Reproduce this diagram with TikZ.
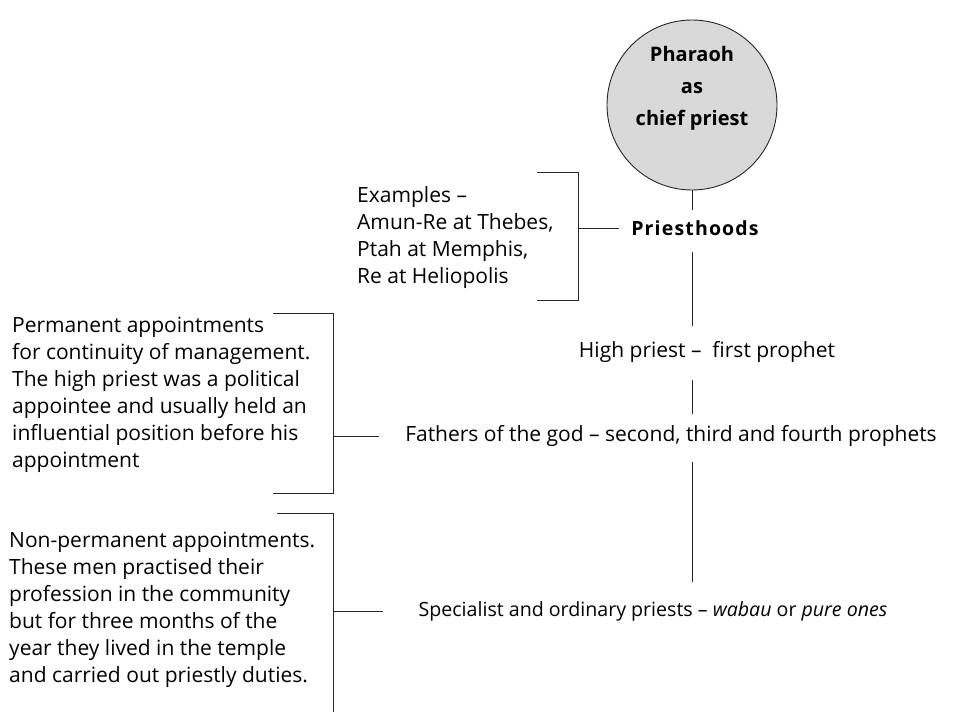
\documentclass[tikz,border=0pt]{standalone}
\usepackage{fontspec}
\setmainfont{Open Sans}
\usetikzlibrary{calc}
\begin{document}
\begin{tikzpicture}[x=1pt,y=-1pt,
  body/.style={font=\fontsize{21}{27}\selectfont, inner sep=0pt},
  block/.style={body, align=left, anchor=west},
  conn/.style={line width=0.9pt, draw=black!85},
  brk/.style={line width=0.9pt, draw=black!85}]
\useasboundingbox (0,0) rectangle (953,712);

% central chain
\node[circle, draw=black!85, line width=0.9pt, fill=black!15, minimum size=170pt,
      inner sep=0pt] (pharaoh) at (692,105) {};
\node[align=center, inner sep=0pt, font=\fontsize{20}{32}\selectfont\bfseries]
  (pharaohtext) at (692,88) {Pharaoh\\as\\chief priest};
\node[body, font=\fontsize{19.5}{22}\selectfont\bfseries\addfontfeature{LetterSpace=6}]
  (prh) at (695,228) {Priesthoods};
\node[body] (hp) at (707,352) {High priest --\ \ first prophet};
\node[body] (fathers) at (671,436) {Fathers of the god -- second, third and fourth prophets};
\node[body, font=\fontsize{19.6}{27}\selectfont] (spec) at (653,611) {Specialist and ordinary priests -- \textit{wabau} or \textit{pure ones}};

\draw[conn] (pharaoh.south) -- ($(prh.center -| pharaoh.south)+(0,-18)$);
\draw[conn, shorten <=24pt, shorten >=26pt] (prh.center -| pharaoh.south) -- (hp.center -| pharaoh.south);
\draw[conn, shorten <=28pt, shorten >=22pt] (hp.center -| pharaoh.south) -- (fathers.center -| pharaoh.south);
\draw[conn, shorten <=26pt, shorten >=29pt] (fathers.center -| pharaoh.south) -- (spec.center -| pharaoh.south);

% left notes
\node[block] (ex) at (357,238) {Examples --\\Amun-Re at Thebes,\\Ptah at Memphis,\\Re at Heliopolis};
\node[block] (perm) at (12,395) {Permanent appointments\\for continuity of management.\\The high priest was a political\\appointee and usually held an\\influential position before his\\appointment};
\node[block] (nonperm) at (9,610) {Non-permanent appointments.\\These men practised their\\profession in the community\\but for three months of the\\year they lived in the temple\\and carried out priestly duties.};

% brackets
\coordinate (b1t) at (578,172);
\coordinate (b1b) at (578,300);
\draw[brk] ($(b1t)+(-41,0)$) -- (b1t) -- (b1b) -- ($(b1b)+(-41,0)$);
\draw[conn, shorten >=12pt] (b1t |- prh.center) -- (prh.west);

\coordinate (b2t) at (333,313);
\coordinate (b2b) at (333,493);
\draw[brk] ($(b2t)+(-60,0)$) -- (b2t) -- (b2b) -- ($(b2b)+(-60,0)$);
\draw[conn, shorten >=26pt] (b2t |- fathers.center) -- (fathers.west);

\coordinate (b3t) at (333,513);
\coordinate (b3b) at (333,712);
\draw[brk] ($(b3t)+(-56,0)$) -- (b3t) -- (b3b);
\draw[conn, shorten >=35pt] (b3t |- spec.center) -- (spec.west);
\end{tikzpicture}
\end{document}
